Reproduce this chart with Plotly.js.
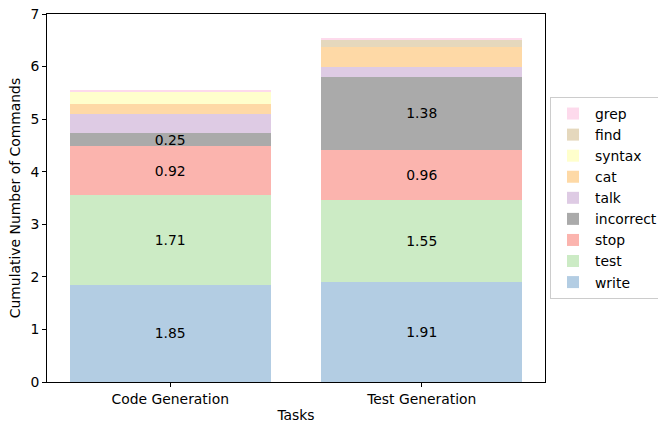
<!DOCTYPE html>
<html>
<head>
<meta charset="utf-8">
<script src="https://cdn.plot.ly/plotly-3.0.1.min.js"></script>
<style>html,body{margin:0;padding:0;background:#fff;}#chart{width:658px;height:423px;}</style>
</head>
<body>
<div id="chart"></div>
<script>
const categories = ["Code Generation", "Test Generation"];
const seriesNames = ["write", "test", "stop", "incorrect", "talk", "cat", "syntax", "find", "grep"];
const write = [1.85, 1.91];
const test = [1.71, 1.55];
const stop = [0.92, 0.96];
const incorrect = [0.25, 1.38];
const talk = [0.37, 0.20];
const cat = [0.18, 0.38];
const syntax = [0.24, 0.00];
const find = [0.00, 0.13];
const grep = [0.03, 0.03];
const labelled = ["write", "test", "stop", "incorrect"];
const colors = ["#b3cde3", "#ccebc5", "#fbb4ae", "#aaaaaa", "#decbe4", "#fed9a6", "#ffffcc", "#e5d8bd", "#fddaec"];

const values = [write, test, stop, incorrect, talk, cat, syntax, find, grep];
const traces = seriesNames.map((name, i) => {
  const show = labelled.includes(name);
  return {
    type: "bar",
    name: name,
    x: categories,
    y: values[i],
    width: 0.8,
    marker: {color: colors[i], line: {width: 0}},
    text: show ? values[i].map(v => v.toFixed(2)) : undefined,
    textposition: show ? "inside" : "none",
    insidetextanchor: "middle",
    textangle: 0,
    textfont: {color: "#000", size: 13.9, family: "DejaVu Sans"},
    constraintext: "none",
    hoverinfo: "skip"
  };
});

const layout = {
  width: 658, height: 423,
  margin: {l: 47, r: 113, t: 14, b: 41, autoexpand: false},
  barmode: "stack",
  paper_bgcolor: "#fff", plot_bgcolor: "#fff",
  font: {family: "DejaVu Sans", size: 13.9, color: "#000"},
  xaxis: {
    range: [-0.49, 1.49],
    showline: true, linecolor: "#000", linewidth: 1, mirror: true,
    ticks: "outside", ticklen: 4, tickcolor: "#000",
    showgrid: false, zeroline: false, automargin: true,
    title: {text: "Tasks", font: {size: 13.9}, standoff: 5}
  },
  yaxis: {
    range: [0, 7], dtick: 1,
    showline: true, linecolor: "#000", linewidth: 1, mirror: true,
    ticks: "outside", ticklen: 4, tickcolor: "#000",
    showgrid: false, zeroline: false, automargin: false,
    title: {text: "Cumulative Number of Commands", font: {size: 13.9}, standoff: 6}
  },
  legend: {
    xref: "container", x: 550 / 658, xanchor: "left", y: 0.5, yanchor: "middle",
    traceorder: "reversed",
    bordercolor: "#cccccc", borderwidth: 1,
    font: {size: 13.9},
    tracegroupgap: 0,
    itemwidth: 34
  },
  showlegend: true
};

Plotly.newPlot("chart", traces, layout, {displayModeBar: false, staticPlot: true});
</script>
</body>
</html>
